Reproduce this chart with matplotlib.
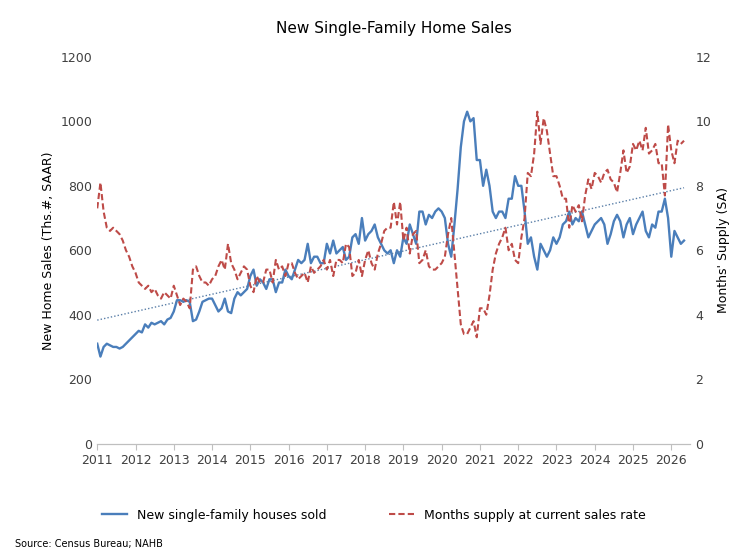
import numpy as np
import matplotlib
matplotlib.use("Agg")
import matplotlib.pyplot as plt

sales = [
    310,270,300,310,305,300,300,295,300,310,320,330,
    340,350,345,370,360,375,370,375,380,370,385,390,
    410,445,445,440,445,440,380,385,410,440,445,450,
    450,430,410,420,450,410,405,450,470,460,470,480,
    520,540,490,510,500,480,510,510,470,500,500,540,
    520,510,540,570,560,570,620,560,580,580,560,560,
    620,590,630,590,600,610,570,580,640,650,620,700,
    630,650,660,680,640,620,600,590,600,560,600,580,
    640,620,680,650,620,720,720,680,710,700,720,730,
    720,700,620,580,680,790,920,1000,1030,1000,1010,880,
    880,800,850,800,720,700,720,720,700,760,760,830,
    800,800,720,620,640,580,540,620,600,580,600,640,
    620,640,680,690,720,680,700,690,720,680,640,660,
    680,690,700,680,620,650,690,710,690,640,680,700,
    650,680,700,720,660,640,680,670,720,720,760,700,
    580,660,640,620,630,
]
supply = [
    7.3,8.1,7.2,6.7,6.6,6.7,6.6,6.5,6.3,6.0,5.8,5.5,
    5.3,5.0,4.9,4.8,4.9,4.7,4.8,4.6,4.5,4.7,4.6,4.5,
    4.9,4.6,4.3,4.5,4.4,4.2,5.4,5.5,5.2,5.0,5.0,4.9,
    5.1,5.2,5.5,5.7,5.4,6.2,5.6,5.4,5.1,5.3,5.5,5.4,
    4.9,4.7,5.2,5.0,5.0,5.4,5.4,5.0,5.7,5.4,5.5,5.2,
    5.6,5.6,5.3,5.1,5.2,5.3,5.0,5.5,5.3,5.4,5.5,5.7,
    5.4,5.7,5.2,5.7,5.7,5.6,6.2,6.1,5.2,5.3,5.7,5.2,
    5.7,6.0,5.6,5.4,5.9,6.2,6.6,6.7,6.7,7.5,6.8,7.5,
    6.3,6.7,5.9,6.5,6.6,5.6,5.7,6.0,5.5,5.4,5.4,5.5,
    5.6,5.8,6.5,7.0,5.9,4.8,3.7,3.4,3.4,3.6,3.8,3.3,
    4.2,4.2,4.0,4.6,5.4,5.9,6.2,6.4,6.7,6.0,6.2,5.7,
    5.6,6.4,7.0,8.4,8.3,9.0,10.3,9.3,10.1,9.7,9.0,8.3,
    8.3,8.0,7.6,7.6,6.7,7.4,7.2,7.4,6.9,7.7,8.2,7.9,
    8.4,8.3,8.1,8.4,8.5,8.2,8.1,7.8,8.4,9.1,8.4,8.6,
    9.3,9.1,9.4,9.1,9.8,9.0,9.1,9.3,8.7,8.7,7.7,9.9,
    9.1,8.7,9.4,9.3,9.4,
]
years = list(range(2011, 2027))

t = 2011 + np.arange(len(sales)) / 12.0
blue = "#4a7ebb"
red = "#be4b48"

fig = plt.figure(figsize=(7.48, 5.58), dpi=100)
ax = fig.add_axes([0.13, 0.205, 0.793, 0.693])
ax.plot(t, sales, color=blue, lw=1.7, label="New single-family houses sold")
coef = np.polyfit(t, sales, 1)
ax.plot(t, np.polyval(coef, t), color="#5a7fa8", lw=1, ls=(0, (1, 1.5)))
ax.set_ylim(0, 1200)
ax.set_yticks(range(0, 1201, 200))
ax.set_xlim(2011, 2026.5)
ax.set_xticks(years)
ax.set_ylabel("New Home Sales (Ths.#, SAAR)", fontsize=9)

ax2 = ax.twinx()
ax2.plot(t, supply, color=red, lw=1.5, ls=(0, (3, 1.5)), label="Months supply at current sales rate")
ax2.set_ylim(0, 12)
ax2.set_yticks(range(0, 13, 2))
ax2.set_ylabel("Months' Supply (SA)", fontsize=9)

for a in (ax, ax2):
    for s in ("top", "left", "right"):
        a.spines[s].set_visible(False)
    a.spines["bottom"].set_color("#bfbfbf")
    a.tick_params(length=0, labelsize=9, colors="#404040")
ax.tick_params(axis="x", length=4, color="#bfbfbf")

ax.set_title("New Single-Family Home Sales", fontsize=11, pad=17)
h1, l1 = ax.get_legend_handles_labels()
h2, l2 = ax2.get_legend_handles_labels()
fig.legend(h1 + h2, l1 + l2, loc="lower center", bbox_to_anchor=(0.5, 0.045),
           ncol=2, frameon=False, fontsize=9, columnspacing=5)
fig.text(0.02, 0.02, "Source: Census Bureau; NAHB", fontsize=7)
fig.savefig("out.png", dpi=100)
